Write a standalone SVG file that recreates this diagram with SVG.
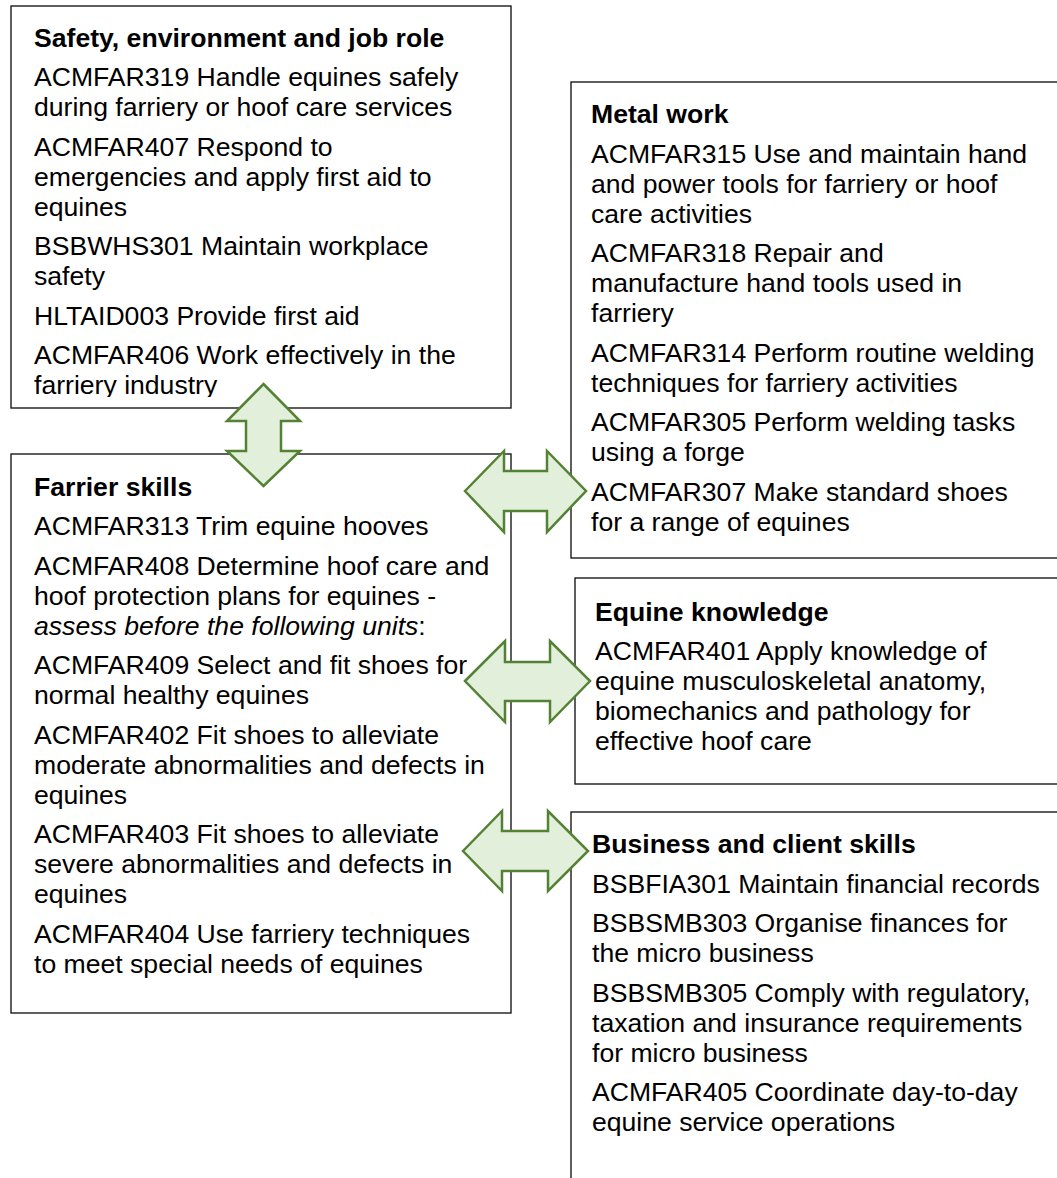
<svg xmlns="http://www.w3.org/2000/svg" width="1057" height="1178" viewBox="0 0 1057 1178">
<style>
.box{fill:#fff;stroke:#1a1a1a;stroke-width:1.4}
.t{font-family:"Liberation Sans",Arial,sans-serif;font-size:26.6px;fill:#000}
.h{font-weight:bold}
.i{font-style:italic}
.arr{fill:#e2efda;stroke:#548235;stroke-width:2.5;stroke-linejoin:miter}
</style>
<defs>
<clipPath id="c1"><rect x="11" y="6" width="500" height="391"/></clipPath>
</defs>
<rect width="1057" height="1178" fill="#fff"/>
<g id="safety">
<rect class="box" x="11" y="6" width="500" height="402"/>
<text class="t h" x="34" y="46.5">Safety, environment and job role</text>
<text class="t" x="34" y="86">ACMFAR319 Handle equines safely</text>
<text class="t" x="34" y="116">during farriery or hoof care services</text>
<text class="t" x="34" y="155.5">ACMFAR407 Respond to</text>
<text class="t" x="34" y="185.5">emergencies and apply first aid to</text>
<text class="t" x="34" y="215.5">equines</text>
<text class="t" x="34" y="255">BSBWHS301 Maintain workplace</text>
<text class="t" x="34" y="285">safety</text>
<text class="t" x="34" y="324.5">HLTAID003 Provide first aid</text>
<text class="t" x="34" y="364">ACMFAR406 Work effectively in the</text>
<text class="t" x="34" y="394" clip-path="url(#c1)">farriery industry</text>
</g>
<g id="farrier">
<rect class="box" x="11" y="454" width="500" height="559"/>
<text class="t h" x="34" y="495.5">Farrier skills</text>
<text class="t" x="34" y="535">ACMFAR313 Trim equine hooves</text>
<text class="t" x="34" y="574.5">ACMFAR408 Determine hoof care and</text>
<text class="t" x="34" y="604.5">hoof protection plans for equines -</text>
<text class="t" x="34" y="634.5"><tspan class="i">assess before the following units</tspan>:</text>
<text class="t" x="34" y="674">ACMFAR409 Select and fit shoes for</text>
<text class="t" x="34" y="704">normal healthy equines</text>
<text class="t" x="34" y="743.5">ACMFAR402 Fit shoes to alleviate</text>
<text class="t" x="34" y="773.5">moderate abnormalities and defects in</text>
<text class="t" x="34" y="803.5">equines</text>
<text class="t" x="34" y="843">ACMFAR403 Fit shoes to alleviate</text>
<text class="t" x="34" y="873">severe abnormalities and defects in</text>
<text class="t" x="34" y="903">equines</text>
<text class="t" x="34" y="942.5">ACMFAR404 Use farriery techniques</text>
<text class="t" x="34" y="972.5">to meet special needs of equines</text>
</g>
<g id="metal">
<rect class="box" x="571" y="82" width="495" height="476"/>
<text class="t h" x="591" y="123">Metal work</text>
<text class="t" x="591" y="162.5">ACMFAR315 Use and maintain hand</text>
<text class="t" x="591" y="192.5">and power tools for farriery or hoof</text>
<text class="t" x="591" y="222.5">care activities</text>
<text class="t" x="591" y="262">ACMFAR318 Repair and</text>
<text class="t" x="591" y="292">manufacture hand tools used in</text>
<text class="t" x="591" y="322">farriery</text>
<text class="t" x="591" y="361.5">ACMFAR314 Perform routine welding</text>
<text class="t" x="591" y="391.5">techniques for farriery activities</text>
<text class="t" x="591" y="431">ACMFAR305 Perform welding tasks</text>
<text class="t" x="591" y="461">using a forge</text>
<text class="t" x="591" y="500.5">ACMFAR307 Make standard shoes</text>
<text class="t" x="591" y="530.5">for a range of equines</text>
</g>
<g id="equine">
<rect class="box" x="575" y="578" width="495" height="206"/>
<text class="t h" x="595" y="621">Equine knowledge</text>
<text class="t" x="595" y="660">ACMFAR401 Apply knowledge of</text>
<text class="t" x="595" y="690">equine musculoskeletal anatomy,</text>
<text class="t" x="595" y="720">biomechanics and pathology for</text>
<text class="t" x="595" y="750">effective hoof care</text>
</g>
<g id="business">
<rect class="box" x="571" y="812" width="495" height="380"/>
<text class="t h" x="592" y="853">Business and client skills</text>
<text class="t" x="592" y="892.5">BSBFIA301 Maintain financial records</text>
<text class="t" x="592" y="932">BSBSMB303 Organise finances for</text>
<text class="t" x="592" y="962">the micro business</text>
<text class="t" x="592" y="1001.5">BSBSMB305 Comply with regulatory,</text>
<text class="t" x="592" y="1031.5">taxation and insurance requirements</text>
<text class="t" x="592" y="1061.5">for micro business</text>
<text class="t" x="592" y="1101">ACMFAR405 Coordinate day-to-day</text>
<text class="t" x="592" y="1131">equine service operations</text>
</g>
<g id="connectors">
<polygon id="arrow-safety-farrier" class="arr" points="263.5,384 300,421 281,421 281,451 300,451 263.5,486 227,451 246,451 246,421 227,421"/>
<polygon id="arrow-farrier-metal" class="arr" points="465,491 504,451 504,471 547,471 547,451 586,491 547,532 547,511 504,511 504,532"/>
<polygon id="arrow-farrier-equine" class="arr" points="465,681 505,641 505,662 550,662 550,641 590,681 550,722 550,701 505,701 505,722"/>
<polygon id="arrow-farrier-business" class="arr" points="463,851 502,811 502,831 548,831 548,811 588,851 548,891 548,871 502,871 502,891"/>
</g>
</svg>
